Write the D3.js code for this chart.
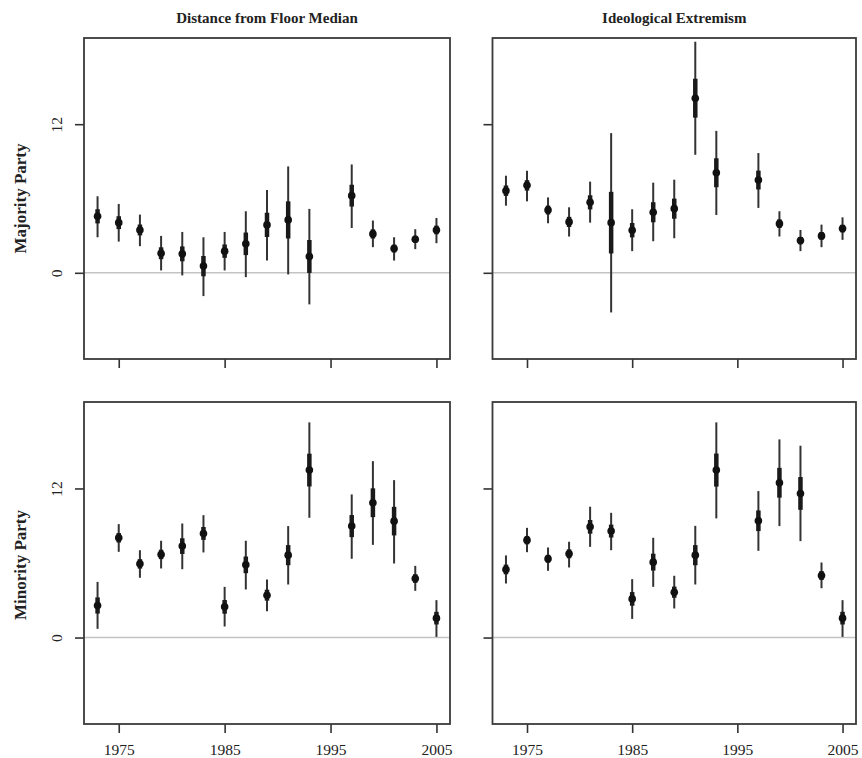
<!DOCTYPE html>
<html>
<head>
<meta charset="utf-8">
<script src="https://cdn.jsdelivr.net/npm/d3@7"></script>
<style>
  html, body { margin: 0; padding: 0; background: #fff; }
  svg { display: block; }
</style>
</head>
<body>
<svg id="chart" width="862" height="758"></svg>
<script>
// ---- data ----
const years = [1973,1975,1977,1979,1981,1983,1985,1987,1989,1991,1993,1997,1999,2001,2003,2005];
const xTicks = [1975,1985,1995,2005];
const yTicks = [0,12];
const columnTitles = ["Distance from Floor Median","Ideological Extremism"];
const rowTitles = ["Majority Party","Minority Party"];

// Majority / Distance from floor median
const majDistEst  = [4.56,4.05,3.46,1.58,1.53,0.54,1.75,2.34,3.87,4.27,1.32,6.23,3.14,1.96,2.71,3.46];
const majDistHi95 = [6.18,5.56,4.70,2.98,3.30,2.87,3.30,4.97,6.69,8.59,5.16,8.75,4.22,2.87,3.52,4.43];
const majDistLo95 = [2.87,2.52,2.15,0.19,-0.21,-1.88,0.19,-0.35,0.99,-0.13,-2.55,3.62,2.07,0.99,1.91,2.39];
const majDistHi50 = [5.13,4.57,3.90,2.06,2.13,1.36,2.29,3.25,4.85,5.77,2.65,7.11,3.51,2.28,2.99,3.81];
const majDistLo50 = [3.99,3.53,3.02,1.10,0.93,-0.28,1.21,1.43,2.89,2.77,-0.01,5.35,2.77,1.64,2.43,3.11];

// Majority / Ideological extremism
const majExtEst  = [6.63,7.06,5.07,4.11,5.69,4.05,3.44,4.89,5.18,14.10,8.08,7.49,3.97,2.60,2.98,3.57];
const majExtHi95 = [7.84,8.24,6.09,5.29,7.36,11.28,5.13,7.28,7.52,18.66,11.46,9.67,4.97,3.46,3.89,4.48];
const majExtLo95 = [5.42,5.77,4.00,2.93,4.05,-3.20,1.75,2.55,2.79,9.53,4.67,5.24,2.93,1.75,2.07,2.66];
const majExtHi50 = [7.05,7.48,5.43,4.52,6.26,6.54,4.02,5.70,5.99,15.67,9.25,8.25,4.32,2.90,3.29,3.88];
const majExtLo50 = [6.21,6.64,4.71,3.70,5.12,1.56,2.86,4.08,4.37,12.53,6.91,6.73,3.62,2.30,2.67,3.26];

// Minority / Distance from floor median
const minDistEst  = [2.58,8.03,5.93,6.69,7.36,8.38,2.47,5.85,3.41,6.63,13.48,8.97,10.85,9.37,4.75,1.56];
const minDistHi95 = [4.48,9.13,7.03,7.79,9.18,9.85,4.08,7.79,4.67,8.97,17.32,11.52,14.20,12.67,5.77,3.01];
const minDistLo95 = [0.70,6.90,4.81,5.56,5.50,6.85,0.89,3.87,2.12,4.27,9.64,6.34,7.46,5.96,3.76,0.05];
const minDistHi50 = [3.23,8.41,6.31,7.07,7.99,8.90,3.02,6.52,3.85,7.44,14.80,9.86,12.01,10.52,5.10,2.07];
const minDistLo50 = [1.93,7.65,5.55,6.31,6.73,7.86,1.92,5.18,2.97,5.82,12.16,8.08,9.69,8.22,4.40,1.05];

// Minority / Ideological extremism
const minExtEst  = [5.48,7.84,6.34,6.74,8.91,8.57,3.11,6.07,3.65,6.63,13.48,9.40,12.46,11.60,4.99,1.56];
const minExtHi95 = [6.61,8.83,7.25,7.71,10.53,10.04,4.70,8.03,4.97,8.99,17.32,11.79,15.95,15.44,6.04,3.01];
const minExtLo95 = [4.35,6.87,5.37,5.64,7.30,7.03,1.50,4.08,2.34,4.27,9.59,6.98,8.97,7.76,3.97,0.05];
const minExtHi50 = [5.87,8.18,6.66,7.10,9.46,9.09,3.66,6.75,4.10,7.44,14.81,10.23,13.66,12.92,5.35,2.07];
const minExtLo50 = [5.09,7.50,6.02,6.38,8.36,8.05,2.56,5.39,3.20,5.82,12.15,8.57,11.26,10.28,4.63,1.05];

// ---- layout ----
const svg = d3.select("#chart");
const font = "'Liberation Serif','Times New Roman',serif";
const colX = [[84,450],[492.5,856]];
const rowY = [[38,359],[402,724]];
const xDomain = [1971.72, 2006.28];
const yDomain = [-6.96, 18.96];

const panels = [
  {r:0,c:0,est:majDistEst,lo95:majDistLo95,hi95:majDistHi95,lo50:majDistLo50,hi50:majDistHi50},
  {r:0,c:1,est:majExtEst,lo95:majExtLo95,hi95:majExtHi95,lo50:majExtLo50,hi50:majExtHi50},
  {r:1,c:0,est:minDistEst,lo95:minDistLo95,hi95:minDistHi95,lo50:minDistLo50,hi50:minDistHi50},
  {r:1,c:1,est:minExtEst,lo95:minExtLo95,hi95:minExtHi95,lo50:minExtLo50,hi50:minExtHi50}
];

panels.forEach(p => {
  const [x0,x1] = colX[p.c];
  const [y0,y1] = rowY[p.r];
  const x = d3.scaleLinear().domain(xDomain).range([x0,x1]);
  const y = d3.scaleLinear().domain(yDomain).range([y1,y0]);
  const g = svg.append("g");

  // zero reference line
  g.append("line")
    .attr("x1",x0).attr("x2",x1)
    .attr("y1",y(0)).attr("y2",y(0))
    .attr("stroke","#c4c4c4").attr("stroke-width",1.6);

  // x axis
  const xa = g.append("g").attr("transform",`translate(0,${y1})`)
    .call(d3.axisBottom(x).tickValues(xTicks).tickSize(9)
      .tickFormat(p.r === 1 ? d3.format("d") : () => ""));
  xa.select(".domain").remove();
  xa.selectAll(".tick line").attr("stroke","#333").attr("stroke-width",1.6);
  xa.selectAll(".tick text").attr("font-family",font).attr("font-size",15.5)
    .attr("fill","#222").attr("dy",null).attr("y",31);

  // y axis
  const ya = g.append("g").attr("transform",`translate(${x0},0)`)
    .call(d3.axisLeft(y).tickValues(yTicks).tickSize(9)
      .tickFormat(p.c === 0 ? d3.format("d") : () => ""));
  ya.select(".domain").remove();
  ya.selectAll(".tick line").attr("stroke","#333").attr("stroke-width",1.6);
  ya.selectAll(".tick text").attr("font-family",font).attr("font-size",15.5)
    .attr("fill","#222")
    .attr("x",null).attr("dy",null)
    .attr("text-anchor","middle")
    .attr("transform","translate(-22,0) rotate(-90)");

  // panel frame
  g.append("rect")
    .attr("x",x0).attr("y",y0).attr("width",x1-x0).attr("height",y1-y0)
    .attr("fill","none").attr("stroke","#3a3a3a").attr("stroke-width",1.8);

  const idx = d3.range(years.length);
  // 95% intervals (thin)
  g.selectAll("line.thin").data(idx).enter().append("line")
    .attr("x1",i=>x(years[i])).attr("x2",i=>x(years[i]))
    .attr("y1",i=>y(p.lo95[i])).attr("y2",i=>y(p.hi95[i]))
    .attr("stroke","#333").attr("stroke-width",2);
  // 50% intervals (thick)
  g.selectAll("line.thick").data(idx).enter().append("line")
    .attr("x1",i=>x(years[i])).attr("x2",i=>x(years[i]))
    .attr("y1",i=>y(p.lo50[i])).attr("y2",i=>y(p.hi50[i]))
    .attr("stroke","#1a1a1a").attr("stroke-width",4.5);
  // point estimates
  g.selectAll("circle").data(idx).enter().append("circle")
    .attr("cx",i=>x(years[i])).attr("cy",i=>y(p.est[i]))
    .attr("r",3.8).attr("fill","#111");
});

// column titles
columnTitles.forEach((t,c) => {
  svg.append("text")
    .attr("x",(colX[c][0]+colX[c][1])/2).attr("y",23)
    .attr("text-anchor","middle")
    .attr("font-family",font).attr("font-weight","bold").attr("font-size",15)
    .attr("fill","#222").text(t);
});
// row titles
rowTitles.forEach((t,r) => {
  const cy = (rowY[r][0]+rowY[r][1])/2;
  const yc = r === 0 ? cy : cy + 2;
  svg.append("text")
    .attr("transform",`translate(26,${yc}) rotate(-90)`)
    .attr("text-anchor","middle")
    .attr("font-family",font).attr("font-weight","bold").attr("font-size",17)
    .attr("fill","#222").text(t);
});
</script>
</body>
</html>
